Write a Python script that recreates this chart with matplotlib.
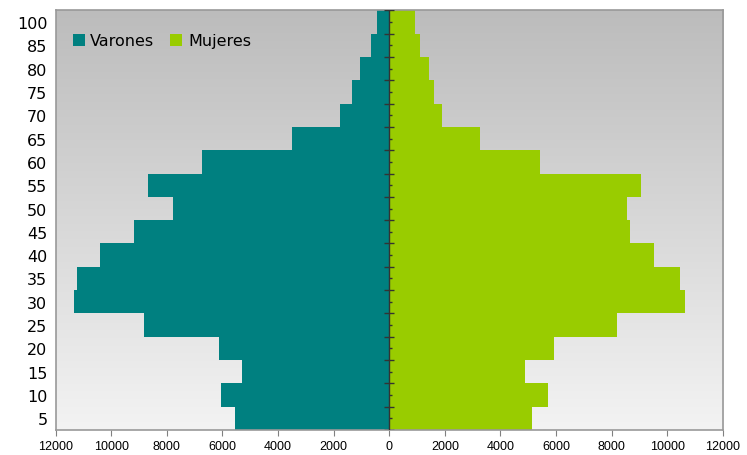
import numpy as np
import matplotlib.pyplot as plt
from matplotlib.colors import LinearSegmentedColormap
from matplotlib.ticker import FuncFormatter

# age groups (bottom to top) and population by sex
edades = ['5', '10', '15', '20', '25', '30', '35', '40', '45',
          '50', '55', '60', '65', '70', '75', '80', '85', '100']
varones = [5560, 6055, 5290, 6130, 8840, 11350, 11240, 10390, 9180,
           7790, 8670, 6730, 3500, 1780, 1340, 1050, 670, 450]
mujeres = [5150, 5720, 4870, 5920, 8200, 10650, 10470, 9530, 8660,
           8560, 9040, 5430, 3260, 1880, 1600, 1430, 1100, 930]

verde_azul = '#008080'
verde_lima = '#99cc00'

fig = plt.figure(figsize=(7.47, 4.56), dpi=100)
ax = fig.add_axes([0.0746, 0.0548, 0.893, 0.9204])

y = np.arange(len(edades))

# gradient background of the plot area
grad = np.linspace(0, 1, 256).reshape(-1, 1)
ax.imshow(grad, extent=[0, 1, 0, 1], transform=ax.transAxes, aspect='auto',
          cmap=LinearSegmentedColormap.from_list('bg', ['#f3f3f3', '#bcbcbc']),
          origin='lower', zorder=0)

ax.barh(y, [-v for v in varones], height=1.0, color=verde_azul,
        linewidth=0, label='Varones', zorder=2)
ax.barh(y, mujeres, height=1.0, color=verde_lima,
        linewidth=0, label='Mujeres', zorder=2)

ax.set_xlim(-12000, 12000)
ax.set_ylim(-0.5, len(edades) - 0.5)

# central axis with tick marks
ax.axvline(0, color='#333333', lw=1.0, zorder=3)
bordes = np.arange(len(edades) + 1) - 0.5
ax.hlines(bordes, -180, 180, color='#333333', lw=1.0, zorder=3)
ax.hlines(y, 0, 110, color='#333333', lw=1.0, zorder=3)

ax.set_xticks(np.arange(-12000, 12001, 2000))
ax.xaxis.set_major_formatter(FuncFormatter(lambda v, p: f'{abs(int(v))}'))
ax.tick_params(axis='x', direction='out', length=4, color='#808080',
               labelsize=9, pad=3)
for lab in ax.get_xticklabels():
    lab.set_family('Liberation Sans')

ax.set_yticks(y)
ax.set_yticklabels(edades, fontsize=11.5)
ax.tick_params(axis='y', length=0, pad=6)

for s in ax.spines.values():
    s.set_color('#999999')
    s.set_linewidth(1.2)

ax.legend(loc='upper left', frameon=False, fontsize=11.5, ncol=2,
          handlelength=0.75, handleheight=0.75, handletextpad=0.35,
          columnspacing=1.0, borderaxespad=0.0,
          bbox_to_anchor=(0.016, 0.96))

fig.savefig('out.png', dpi=100)
